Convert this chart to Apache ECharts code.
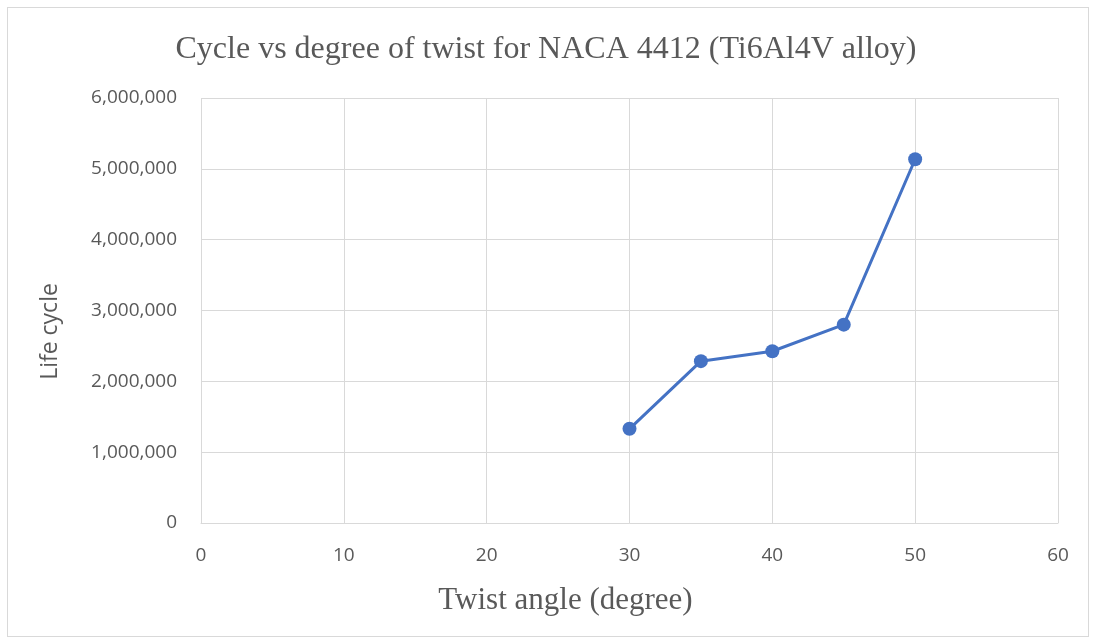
<!DOCTYPE html>
<html>
<head>
<meta charset="utf-8">
<script src="https://cdn.jsdelivr.net/npm/echarts@6/dist/echarts.min.js"></script>
<style>
  html, body { margin: 0; padding: 0; background: #fff; }
  #frame { position: absolute; left: 7px; top: 7px; width: 1082px; height: 630px; border: 1px solid #d9d9d9; box-sizing: border-box; }
  #chart { width: 1093px; height: 641px; }
</style>
</head>
<body>
<div id="frame"></div>
<div id="chart"></div>
<script>
// Twist angle (degrees) and fatigue life (cycles)
const twistAngles = [30, 35, 40, 45, 50];
const lifeCycles = [1330000, 2285000, 2425000, 2800000, 5135000];
const xTicks = [0, 10, 20, 30, 40, 50, 60];
const yTicks = [0, 1000000, 2000000, 3000000, 4000000, 5000000, 6000000];

const chart = echarts.init(document.getElementById('chart'), null, { renderer: 'canvas' });
const grey = '#595959';
const gridGrey = '#d9d9d9';

chart.setOption({
  backgroundColor: 'transparent',
  animation: false,
  title: {
    text: 'Cycle vs degree of twist for NACA 4412 (Ti6Al4V alloy)',
    left: 541, top: 29, textAlign: 'center',
    textStyle: { fontFamily: 'Liberation Serif', fontSize: 32, fontWeight: 'normal', color: grey }
  },
  grid: { left: 201, right: 35, top: 98, bottom: 118, containLabel: false },
  xAxis: {
    type: 'value',
    min: xTicks[0], max: xTicks[xTicks.length - 1], interval: 10,
    name: 'Twist angle (degree)', nameLocation: 'middle', nameGap: 62,
    nameTextStyle: { fontFamily: 'Liberation Serif', fontSize: 31, color: grey, padding: [0, 128, 0, 0] },
    axisLine: { show: true, lineStyle: { color: gridGrey, width: 1 } },
    axisTick: { show: false },
    axisLabel: { margin: 23, fontFamily: 'Open Sans', fontSize: 19, color: grey },
    splitLine: { show: true, lineStyle: { color: gridGrey, width: 1 } }
  },
  yAxis: {
    type: 'value',
    min: yTicks[0], max: yTicks[yTicks.length - 1], interval: 1000000,
    name: 'Life cycle', nameLocation: 'middle', nameGap: 139, nameRotate: 90,
    nameTextStyle: { fontFamily: 'Open Sans', fontSize: 23, color: grey, padding: [0, 42, 0, 0] },
    axisLine: { show: false },
    axisTick: { show: false },
    axisLabel: {
      margin: 24, fontFamily: 'Open Sans', fontSize: 19, color: grey,
      formatter: v => v.toLocaleString('en-US')
    },
    splitLine: { show: true, lineStyle: { color: gridGrey, width: 1 } }
  },
  series: [{
    type: 'line',
    data: twistAngles.map((a, i) => [a, lifeCycles[i]]),
    symbol: 'circle', symbolSize: 14,
    lineStyle: { color: '#4472C4', width: 3 },
    itemStyle: { color: '#4472C4' }
  }]
});
</script>
</body>
</html>
